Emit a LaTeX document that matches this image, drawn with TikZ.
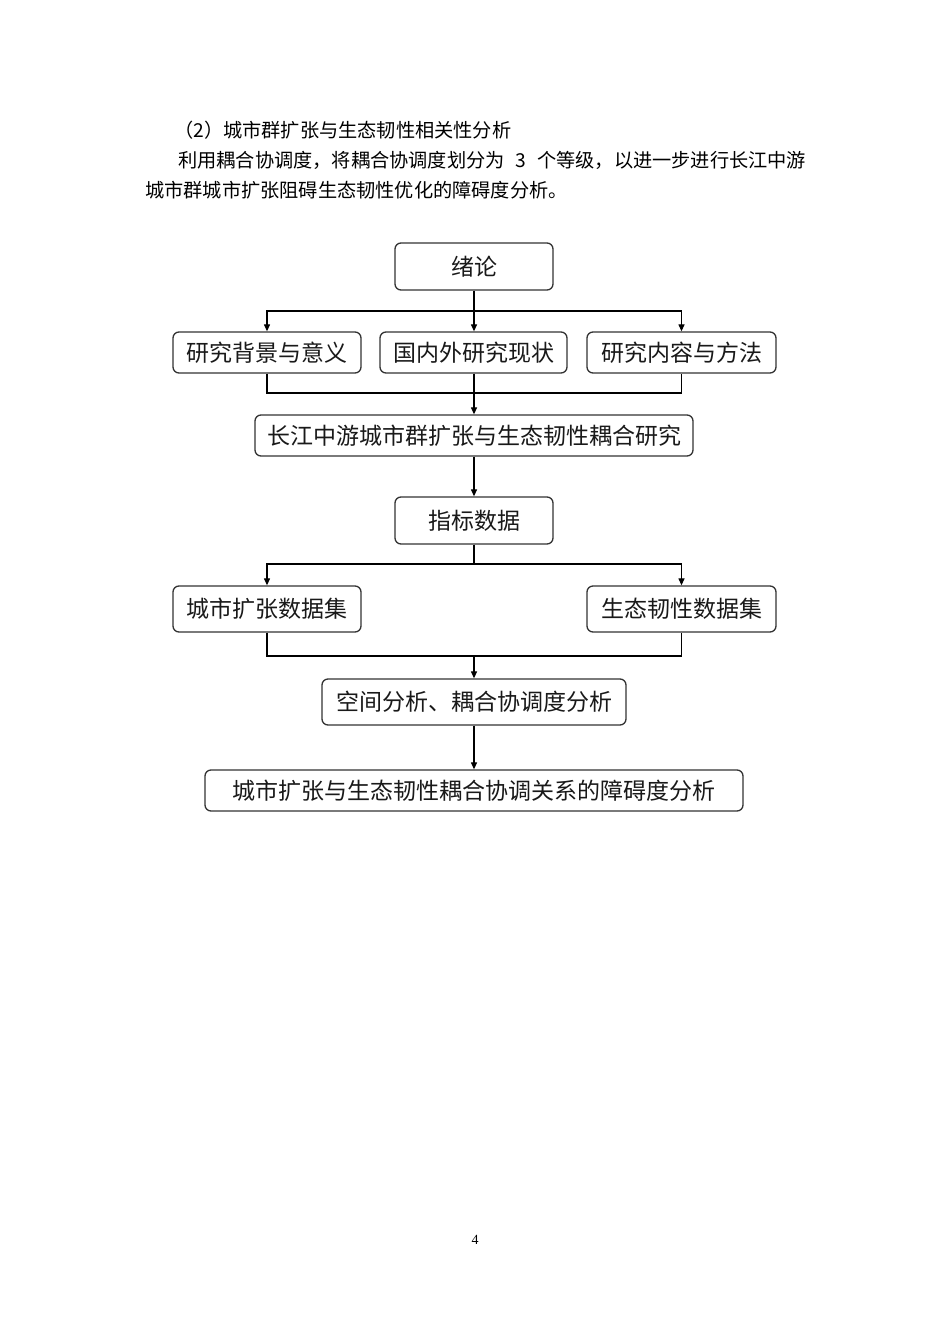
\documentclass[tikz,border=0pt]{standalone}
\usepackage{fontspec}
\setmainfont{Liberation Serif}
\newfontfamily\cjk{Noto Sans CJK SC}
\usetikzlibrary{arrows.meta}
\XeTeXlinebreaklocale "zh"
\XeTeXlinebreakskip = 0pt plus 1pt
\tikzset{
  flowbox/.style={draw=black!80, line width=1.3pt, rounded corners=6pt, inner sep=0pt,
     font=\cjk\fontsize{23}{23}\selectfont, text=black!90},
  arr/.style={line width=1.2pt, -{Triangle[length=7pt,width=6pt]}},
  ln/.style={line width=1.2pt},
  para/.style={inner sep=0pt, anchor=base west, font=\cjk\fontsize{19.2}{19.2}\selectfont}
}
\begin{document}
\begin{tikzpicture}[x=1pt,y=-1pt]
\useasboundingbox[fill=white] (0,0) rectangle (950,1344);
% paragraph text
\node[para] (p1) at (174,137) {（2）城市群扩张与生态韧性相关性分析};
\node[para] (p2) at (178,167) {\makebox[628pt][s]{利用耦合协调度，将耦合协调度划分为 3 个等级，以进一步进行长江中游}};
\node[para] (p3) at (145,197) {城市群城市扩张阻碍生态韧性优化的障碍度分析。};
% flowchart
\node[flowbox, minimum width=158pt, minimum height=47pt] (n1) at (474,266.5) {绪论};
\node[flowbox, minimum width=188pt, minimum height=41pt] (a) at (267,352.5) {研究背景与意义};
\node[flowbox, minimum width=187pt, minimum height=41pt] (b) at (473.5,352.5) {国内外研究现状};
\node[flowbox, minimum width=189pt, minimum height=41pt] (c) at (681.5,352.5) {研究内容与方法};
\node[flowbox, minimum width=438pt, minimum height=41pt] (d) at (474,435.5) {长江中游城市群扩张与生态韧性耦合研究};
\node[flowbox, minimum width=158pt, minimum height=47pt] (e) at (474,520.5) {指标数据};
\node[flowbox, minimum width=188pt, minimum height=46pt] (f) at (267,609) {城市扩张数据集};
\node[flowbox, minimum width=189pt, minimum height=46pt] (g) at (681.5,609) {生态韧性数据集};
\node[flowbox, minimum width=304pt, minimum height=46pt] (h) at (474,702) {空间分析、耦合协调度分析};
\node[flowbox, minimum width=538pt, minimum height=41pt] (i) at (474,790.5) {城市扩张与生态韧性耦合协调关系的障碍度分析};
% junctions
\coordinate (j1) at (474,311);
\coordinate (j2) at (474,393);
\coordinate (j3) at (474,564);
\coordinate (j4) at (474,656);
% connectors
\draw[ln] (n1.south) -- (j1);
\draw[arr] (j1) -| (a.north);
\draw[arr] (j1) -- (b.north -| j1);
\draw[arr] (j1) -| (c.north);
\draw[ln] (a.south) |- (j2) -| (c.south);
\draw[arr] (b.south -| j2) -- (d.north);
\draw[arr] (d.south) -- (e.north);
\draw[ln] (e.south) -- (j3);
\draw[arr] (j3) -| (f.north);
\draw[arr] (j3) -| (g.north);
\draw[ln] (f.south) |- (j4) -| (g.south);
\draw[arr] (j4) -- (h.north);
\draw[arr] (h.south) -- (i.north);
% page number
\node[inner sep=0pt, font=\fontsize{14}{14}\selectfont] (pg) at (475,1240) {4};
\end{tikzpicture}
\end{document}
